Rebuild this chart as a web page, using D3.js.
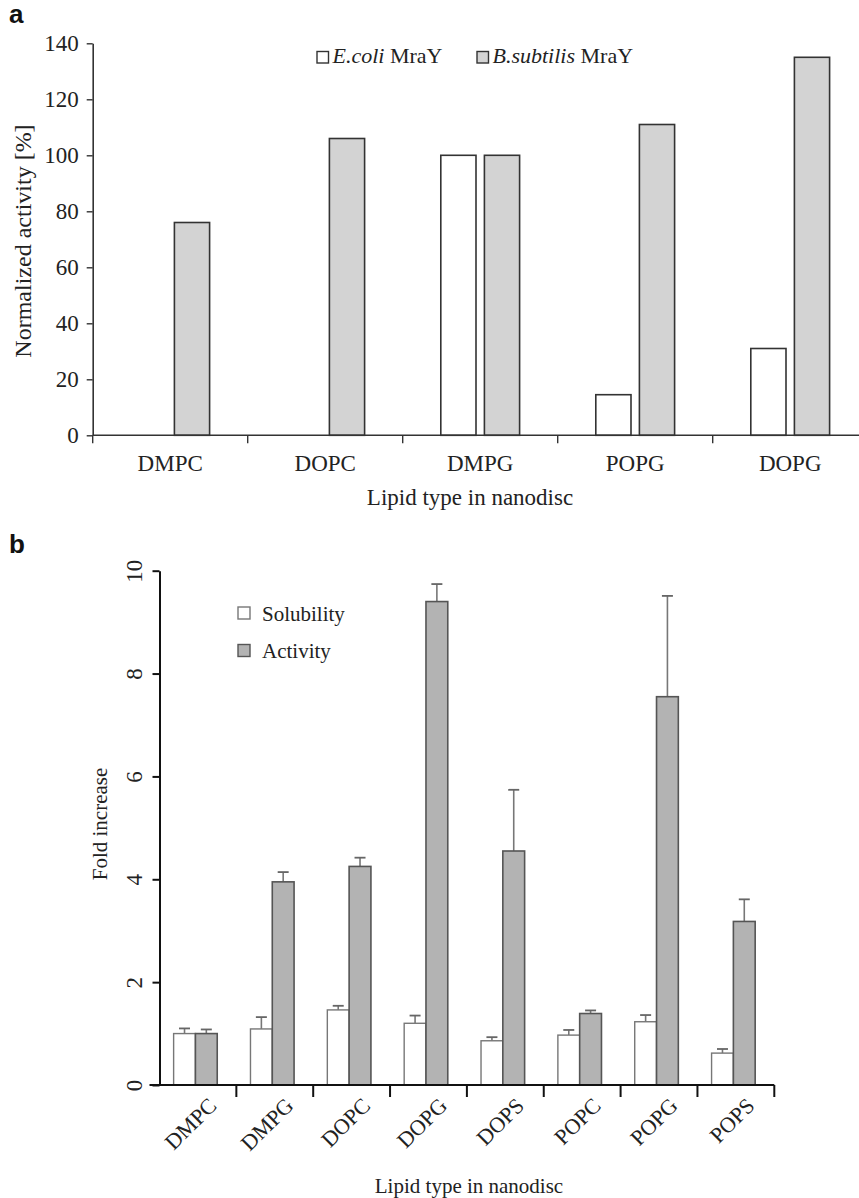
<!DOCTYPE html>
<html>
<head>
<meta charset="utf-8">
<script src="https://cdn.jsdelivr.net/npm/d3@7"></script>
<style>
  html, body { margin: 0; padding: 0; background: #fff; }
  svg { display: block; }
  text { font-family: "Liberation Serif", "Times New Roman", serif; fill: #222; }
  .panel-tag { font-family: "Liberation Sans", Arial, sans-serif; font-weight: bold; fill: #111; }
</style>
</head>
<body>
<svg id="fig" width="859" height="1198"></svg>
<script>
// ---- Panel a: MraY activity in nanodiscs of different lipids ----
const lipidsA = ["DMPC", "DOPC", "DMPG", "POPG", "DOPG"];
const ecoliActivity = [null, null, 100, 14.5, 31];       // E. coli MraY, % of DMPG
const bsubActivity  = [76, 106, 100, 111, 135];          // B. subtilis MraY
const ticksA = [0, 20, 40, 60, 80, 100, 120, 140];

// ---- Panel b: solubility and activity fold increase ----
const lipidsB = ["DMPC", "DMPG", "DOPC", "DOPG", "DOPS", "POPC", "POPG", "POPS"];
const solubility    = [1.00, 1.09, 1.46, 1.20, 0.86, 0.97, 1.23, 0.62];
const solubilityErr = [0.10, 0.23, 0.08, 0.15, 0.07, 0.10, 0.13, 0.08];
const activity      = [1.00, 3.95, 4.25, 9.40, 4.55, 1.39, 7.55, 3.18];
const activityErr   = [0.08, 0.19, 0.17, 0.34, 1.19, 0.06, 1.96, 0.43];
const ticksB = [0, 2, 4, 6, 8, 10];

const svg = d3.select("#fig");

/* ================= Panel a ================= */
{
  const left = 92.7, bottom = 435.3, top = 43.3, right = 867.7;
  const y = d3.scaleLinear().domain([0, 140]).range([bottom, top]);
  const x = d3.scaleBand().domain(lipidsA).range([left, right]);
  const barW = 35.2, gap = 8.4;
  const g = svg.append("g");

  svg.append("text").attr("class", "panel-tag")
    .attr("x", 9).attr("y", 23).attr("font-size", 26).text("a");

  // bars
  const rows = lipidsA.map((c, i) => ({ c, e: ecoliActivity[i], b: bsubActivity[i] }));
  g.selectAll("rect.ecoli").data(rows.filter(d => d.e != null)).join("rect")
    .attr("class", "ecoli")
    .attr("x", d => x(d.c) + x.bandwidth() / 2 - gap / 2 - barW)
    .attr("y", d => y(d.e)).attr("width", barW).attr("height", d => y(0) - y(d.e))
    .attr("fill", "#fff").attr("stroke", "#333").attr("stroke-width", 1.6);
  g.selectAll("rect.bsub").data(rows.filter(d => d.b != null)).join("rect")
    .attr("class", "bsub")
    .attr("x", d => x(d.c) + x.bandwidth() / 2 + gap / 2)
    .attr("y", d => y(d.b)).attr("width", barW).attr("height", d => y(0) - y(d.b))
    .attr("fill", "#d3d3d3").attr("stroke", "#333").attr("stroke-width", 1.6);

  // y axis
  const ya = g.append("g").attr("transform", `translate(${left},0)`)
    .call(d3.axisLeft(y).tickValues(ticksA).tickSize(6).tickSizeOuter(0).tickPadding(8));
  ya.select(".domain").attr("stroke", "#333").attr("stroke-width", 1.6);
  ya.selectAll(".tick line").attr("stroke", "#333").attr("stroke-width", 1.4);
  ya.selectAll(".tick text").attr("font-size", 23).attr("font-family", "Liberation Serif").attr("fill", "#222");

  // x axis: baseline with ticks at category boundaries
  g.append("line").attr("x1", left).attr("x2", 859).attr("y1", y(0)).attr("y2", y(0))
    .attr("stroke", "#333").attr("stroke-width", 1.6);
  g.selectAll("line.xtick").data(lipidsA).join("line").attr("class", "xtick")
    .attr("x1", d => x(d)).attr("x2", d => x(d))
    .attr("y1", y(0)).attr("y2", y(0) + 8)
    .attr("stroke", "#333").attr("stroke-width", 1.4);
  g.selectAll("text.xlab").data(lipidsA).join("text").attr("class", "xlab")
    .attr("x", d => x(d) + x.bandwidth() / 2).attr("y", 471)
    .attr("text-anchor", "middle").attr("font-size", 23).text(d => d);

  // titles
  g.append("text").attr("x", 470).attr("y", 505).attr("text-anchor", "middle")
    .attr("font-size", 23).text("Lipid type in nanodisc");
  g.append("text").attr("transform", "translate(31,241) rotate(-90)")
    .attr("text-anchor", "middle").attr("font-size", 24).text("Normalized activity [%]");

  // legend
  const leg = [
    { x: 317, fill: "#fff", it: "E.coli" },
    { x: 477, fill: "#d3d3d3", it: "B.subtilis" }
  ];
  leg.forEach(l => {
    g.append("rect").attr("x", l.x).attr("y", 51.5).attr("width", 11.5).attr("height", 11.5)
      .attr("fill", l.fill).attr("stroke", "#333").attr("stroke-width", 1.4);
    const t = g.append("text").attr("x", l.x + 15.5).attr("y", 63).attr("font-size", 22);
    t.append("tspan").attr("font-style", "italic").text(l.it);
    t.append("tspan").text(" MraY");
  });
}

/* ================= Panel b ================= */
{
  const left = 159.5, bottom = 1085, top = 570.7, right = 774.3;
  const y = d3.scaleLinear().domain([0, 10]).range([bottom, top]);
  const x = d3.scaleBand().domain(lipidsB).range([left, right]);
  const barW = 21.8, shift = -2.5, capW = 11;
  const g = svg.append("g");

  svg.append("text").attr("class", "panel-tag")
    .attr("x", 9).attr("y", 553).attr("font-size", 26).text("b");

  const rows = lipidsB.map((c, i) => ({
    c, s: solubility[i], se: solubilityErr[i], a: activity[i], ae: activityErr[i]
  }));
  const cx = d => x(d.c) + x.bandwidth() / 2 + shift;

  // error bars (upper only)
  const errs = [];
  rows.forEach(d => {
    errs.push({ x: cx(d) - barW / 2, v: d.s, e: d.se });
    errs.push({ x: cx(d) + barW / 2, v: d.a, e: d.ae });
  });
  g.selectAll("line.err").data(errs).join("line").attr("class", "err")
    .attr("x1", d => d.x).attr("x2", d => d.x)
    .attr("y1", d => y(d.v)).attr("y2", d => y(d.v + d.e))
    .attr("stroke", "#777").attr("stroke-width", 1.6);
  g.selectAll("line.cap").data(errs).join("line").attr("class", "cap")
    .attr("x1", d => d.x - capW / 2).attr("x2", d => d.x + capW / 2)
    .attr("y1", d => y(d.v + d.e)).attr("y2", d => y(d.v + d.e))
    .attr("stroke", "#666").attr("stroke-width", 1.8);

  g.selectAll("rect.sol").data(rows).join("rect").attr("class", "sol")
    .attr("x", d => cx(d) - barW).attr("y", d => y(d.s))
    .attr("width", barW).attr("height", d => y(0) - y(d.s))
    .attr("fill", "#fff").attr("stroke", "#777").attr("stroke-width", 1.4);
  g.selectAll("rect.act").data(rows).join("rect").attr("class", "act")
    .attr("x", d => cx(d)).attr("y", d => y(d.a))
    .attr("width", barW).attr("height", d => y(0) - y(d.a))
    .attr("fill", "#b3b3b3").attr("stroke", "#555").attr("stroke-width", 1.6);

  // y axis with rotated tick labels
  const ya = g.append("g").attr("transform", `translate(${left},0)`)
    .call(d3.axisLeft(y).tickValues(ticksB).tickSize(7).tickSizeOuter(0));
  ya.select(".domain").attr("stroke", "#111").attr("stroke-width", 2);
  ya.selectAll(".tick line").attr("stroke", "#111").attr("stroke-width", 2);
  ya.selectAll(".tick text")
    .attr("transform", "rotate(-90)")
    .attr("x", 0).attr("y", -17.5).attr("dy", 0)
    .attr("text-anchor", "middle")
    .attr("font-size", 23).attr("font-family", "Liberation Serif").attr("fill", "#222");

  // x axis
  g.append("line").attr("x1", left - 10).attr("x2", right).attr("y1", y(0)).attr("y2", y(0))
    .attr("stroke", "#111").attr("stroke-width", 2);
  g.selectAll("line.xtick").data(lipidsB).join("line").attr("class", "xtick")
    .attr("x1", d => x(d) + x.bandwidth()).attr("x2", d => x(d) + x.bandwidth())
    .attr("y1", y(0)).attr("y2", y(0) + 12)
    .attr("stroke", "#111").attr("stroke-width", 2);
  g.selectAll("text.xlab").data(lipidsB).join("text").attr("class", "xlab")
    .attr("transform", d => `translate(${x(d) + x.bandwidth() / 2 + 20},${y(0) + 22}) rotate(-45)`)
    .attr("text-anchor", "end").attr("font-size", 22).text(d => d);

  // titles
  g.append("text").attr("x", 469).attr("y", 1193).attr("text-anchor", "middle")
    .attr("font-size", 21).text("Lipid type in nanodisc");
  g.append("text").attr("transform", "translate(107,824) rotate(-90)")
    .attr("text-anchor", "middle").attr("font-size", 21).text("Fold increase");

  // legend
  const leg = [
    { y: 607, fill: "#fff", stroke: "#777", label: "Solubility" },
    { y: 644.5, fill: "#b3b3b3", stroke: "#555", label: "Activity" }
  ];
  leg.forEach(l => {
    g.append("rect").attr("x", 238).attr("y", l.y).attr("width", 12).attr("height", 12)
      .attr("fill", l.fill).attr("stroke", l.stroke).attr("stroke-width", 1.4);
    g.append("text").attr("x", 262).attr("y", l.y + 13.5).attr("font-size", 21).text(l.label);
  });
}
</script>
</body>
</html>
